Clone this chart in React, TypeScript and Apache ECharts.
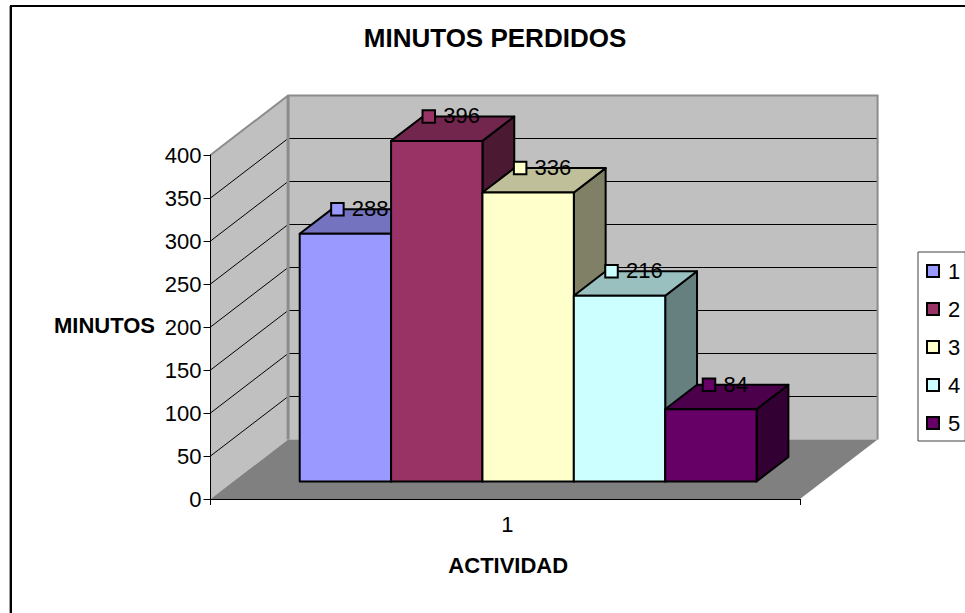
import React, { useEffect, useRef } from "react";
import * as echarts from "echarts";

const chartTitle = "MINUTOS PERDIDOS";
const xTitle = "ACTIVIDAD";
const yTitle = "MINUTOS";
const categories = ["1"];
const seriesNames = ["1", "2", "3", "4", "5"];
const seriesValues = [288, 396, 336, 216, 84];
const gridValues = [50, 100, 150, 200, 250, 300, 350];

const frontColors = ["#9999FF", "#993366", "#FFFFCC", "#CCFFFF", "#660066"];
const topColors = ["#7373BF", "#73264D", "#BFBF99", "#99BFBF", "#4C004C"];
const sideColors = ["#4C4C80", "#4C1933", "#808066", "#668080", "#330033"];

const FONT = "'Liberation Sans', Arial, sans-serif";

// Oblique projection of the chart's depth axis, in pixels.
const DEPTH_X = 77.6;
const DEPTH_Y = -59.5;

// Bar box proportions, as fractions of the category band and of the depth.
const BAR_MARGIN = 0.1125;
const BAR_WIDTH = 0.155;
const BAR_DEPTH_START = 0.295;
const BAR_DEPTH = 0.41;

function renderWalls(_params: any, api: any) {
  const [cx, bottom] = api.coord([0, 0]);
  const band = api.size([1, 0])[0];
  const left = cx - band / 2;
  const right = cx + band / 2;
  const top = api.coord([0, 400])[1];
  const bl = left + DEPTH_X;
  const br = right + DEPTH_X;

  const children: any[] = [
    {
      type: "polygon",
      shape: { points: [[left, bottom], [bl, bottom + DEPTH_Y], [bl, top + DEPTH_Y], [left, top]] },
      style: { fill: "#C0C0C0" },
    },
    {
      type: "rect",
      shape: { x: bl, y: top + DEPTH_Y, width: br - bl, height: bottom - top },
      style: { fill: "#C0C0C0" },
    },
    {
      type: "polygon",
      shape: { points: [[left, bottom], [right, bottom], [br, bottom + DEPTH_Y], [bl, bottom + DEPTH_Y]] },
      style: { fill: "#808080" },
    },
  ];

  gridValues.forEach((v) => {
    const y = api.coord([0, v])[1];
    children.push({
      type: "polyline",
      shape: { points: [[left, y], [bl, y + DEPTH_Y], [br, y + DEPTH_Y]] },
      style: { fill: "none", stroke: "#000", lineWidth: 1 },
    });
  });

  children.push({
    type: "polyline",
    shape: { points: [[left, top], [bl, top + DEPTH_Y], [br, top + DEPTH_Y], [br, bottom + DEPTH_Y]] },
    style: { fill: "none", stroke: "#8C8C8C", lineWidth: 2 },
  });
  children.push({
    type: "line",
    shape: { x1: bl, y1: top + DEPTH_Y, x2: bl, y2: bottom + DEPTH_Y },
    style: { stroke: "#8C8C8C", lineWidth: 3 },
  });
  return { type: "group", children };
}

function makeBarRenderer(index: number) {
  return (_params: any, api: any) => {
    const value = api.value(1);
    const [cx, bottomY] = api.coord([api.value(0), 0]);
    const topY = api.coord([api.value(0), value])[1];
    const band = api.size([1, 0])[0];
    const width = band * BAR_WIDTH;
    const x0 = cx - band / 2 + band * (BAR_MARGIN + BAR_WIDTH * index) + BAR_DEPTH_START * DEPTH_X;
    const y0 = bottomY + BAR_DEPTH_START * DEPTH_Y;
    const y1 = topY + BAR_DEPTH_START * DEPTH_Y;
    const dx = BAR_DEPTH * DEPTH_X;
    const dy = BAR_DEPTH * DEPTH_Y;
    const x1 = x0 + width;
    const edge = { stroke: "#000", lineWidth: 2, lineJoin: "round" };

    // Key and value are centred together over the top face's rear edge.
    const text = String(value);
    const keySize = 12.5;
    const keyGap = 8.2;
    const textWidth = text.length * 12.2;
    const total = keySize + keyGap + textWidth;
    const anchorX = x0 + width / 2 + dx / 2;
    const keyX = anchorX - total / 2 - 1.5;
    const keyY = y1 + dy;

    return {
      type: "group",
      children: [
        {
          type: "polygon",
          shape: { points: [[x1, y0], [x1 + dx, y0 + dy], [x1 + dx, y1 + dy], [x1, y1]] },
          style: { fill: sideColors[index], ...edge },
        },
        {
          type: "polygon",
          shape: { points: [[x0, y1], [x1, y1], [x1 + dx, y1 + dy], [x0 + dx, y1 + dy]] },
          style: { fill: topColors[index], ...edge },
        },
        {
          type: "rect",
          shape: { x: x0, y: y1, width, height: y0 - y1 },
          style: { fill: frontColors[index], ...edge },
        },
        {
          type: "rect",
          z2: 100,
          shape: { x: keyX, y: keyY - keySize / 2, width: keySize, height: keySize },
          style: { fill: frontColors[index], stroke: "#000", lineWidth: 2 },
        },
        {
          type: "text",
          z2: 100,
          style: {
            x: keyX + keySize + keyGap,
            y: keyY - 0.5,
            text,
            fill: "#000",
            fontFamily: FONT,
            fontSize: 22,
            textAlign: "left",
            verticalAlign: "middle",
          },
        },
      ],
    };
  };
}

export default function App() {
  const ref = useRef<HTMLDivElement>(null);

  useEffect(() => {
    document.body.style.margin = "0";
    const chart = echarts.init(ref.current!, undefined, { renderer: "svg" });
    chart.setOption({
      animation: false,
      backgroundColor: "#fff",
      title: {
        text: chartTitle,
        left: 490,
        top: 20,
        textAlign: "center",
        textStyle: { fontFamily: FONT, fontSize: 26, fontWeight: "bold", color: "#000" },
      },
      legend: {
        show: true,
        orient: "vertical",
        left: 918,
        top: 252,
        data: seriesNames,
        icon: "rect",
        itemWidth: 12,
        itemHeight: 12,
        itemGap: 16,
        selectedMode: false,
        padding: [8, 5, 7, 8],
        borderColor: "#404040",
        borderWidth: 1,
        textStyle: {
          fontFamily: FONT,
          fontSize: 22,
          color: "#000",
          lineHeight: 19,
          padding: [0, 0, 3, 4],
        },
      },
      grid: { left: 210.5, top: 155, width: 589.5, height: 344, containLabel: false },
      xAxis: {
        type: "category",
        data: categories,
        z: 3,
        name: xTitle,
        nameLocation: "middle",
        nameGap: 55,
        nameTextStyle: {
          fontFamily: FONT,
          fontSize: 22,
          fontWeight: "bold",
          color: "#000",
          padding: [0, 0, 0, 6],
        },
        axisLine: { lineStyle: { color: "#000", width: 1 } },
        axisTick: { show: true, length: 6, lineStyle: { color: "#000" } },
        axisLabel: {
          fontFamily: FONT,
          fontSize: 22,
          color: "#000",
          margin: 14,
          padding: [0, 0, 0, 4],
        },
        splitLine: { show: false },
      },
      yAxis: {
        type: "value",
        min: 0,
        max: 400,
        interval: 50,
        z: 3,
        axisLine: { show: true, lineStyle: { color: "#000", width: 1 } },
        axisTick: { show: true, length: 7, lineStyle: { color: "#000" } },
        axisLabel: {
          fontFamily: FONT,
          fontSize: 22,
          color: "#000",
          margin: 9,
          padding: [0, 0, 3, 0],
        },
        splitLine: { show: false },
      },
      graphic: [
        {
          type: "polyline",
          silent: true,
          shape: { points: [[9.5, 613], [9.5, 6]] },
          style: { fill: "none", stroke: "#A0A0A0", lineWidth: 1 },
        },
        {
          type: "polyline",
          silent: true,
          shape: { points: [[11, 613], [11, 6], [965, 6]] },
          style: { fill: "none", stroke: "#000", lineWidth: 2 },
        },
        {
          type: "text",
          silent: true,
          x: 155,
          y: 325,
          style: {
            text: yTitle,
            fill: "#000",
            fontFamily: FONT,
            fontSize: 22,
            fontWeight: "bold",
            textAlign: "right",
            verticalAlign: "middle",
          },
        },
      ],
      series: [
        {
          name: "walls",
          type: "custom",
          coordinateSystem: "cartesian2d",
          silent: true,
          clip: false,
          data: [[0, 0]],
          encode: { x: 0, y: 1 },
          renderItem: renderWalls,
        },
        ...seriesNames.map((name, i) => ({
          name,
          type: "custom",
          coordinateSystem: "cartesian2d",
          silent: true,
          clip: false,
          itemStyle: { color: frontColors[i], borderColor: "#000", borderWidth: 1.5 },
          data: [[0, seriesValues[i]]],
          encode: { x: 0, y: 1 },
          renderItem: makeBarRenderer(i),
        })),
      ],
    });
    return () => chart.dispose();
  }, []);

  return <div ref={ref} style={{ position: "absolute", left: 0, top: 0, width: 965, height: 613 }} />;
}
